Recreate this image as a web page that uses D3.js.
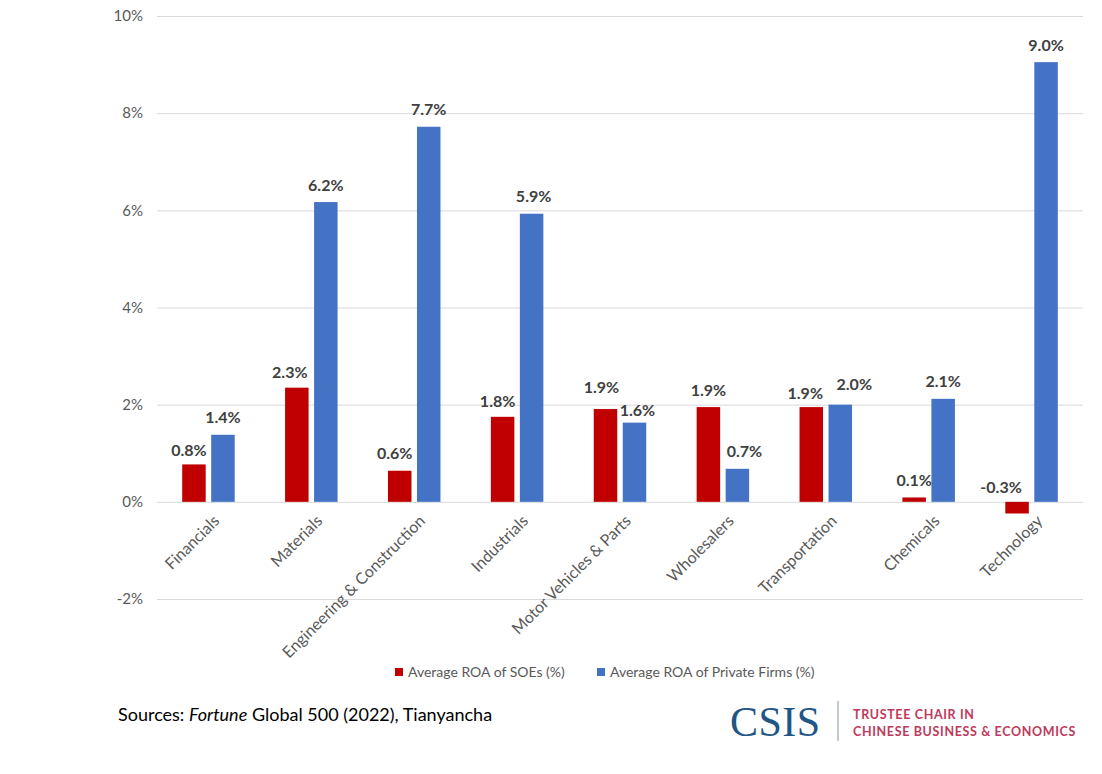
<!DOCTYPE html>
<html>
<head>
<meta charset="utf-8">
<script src="https://cdn.jsdelivr.net/npm/d3@7"></script>
<style>
  body { margin: 0; background: #fff; }
  svg { font-family: Lato, "Open Sans", sans-serif; }
</style>
</head>
<body>
<svg width="1102" height="774"></svg>
<script>
// values
var categories = ["Financials", "Materials", "Engineering & Construction", "Industrials",
  "Motor Vehicles & Parts", "Wholesalers", "Transportation", "Chemicals", "Technology"];
var soeValues = [0.77, 2.35, 0.64, 1.75, 1.91, 1.95, 1.95, 0.09, -0.24];
var soeLabels = ["0.8%", "2.3%", "0.6%", "1.8%", "1.9%", "1.9%", "1.9%", "0.1%", "-0.3%"];
var privateValues = [1.38, 6.17, 7.72, 5.93, 1.63, 0.68, 2.0, 2.12, 9.05];
var privateLabels = ["1.4%", "6.2%", "7.7%", "5.9%", "1.6%", "0.7%", "2.0%", "2.1%", "9.0%"];
var yTicks = [-2, 0, 2, 4, 6, 8, 10];
var seriesNames = ["Average ROA of SOEs (%)", "Average ROA of Private Firms (%)"];
var colors = ["#c00000", "#4472c4"];

// hand-moved data labels in the original (pixel nudges)
var soeNudgeX = [-5, -7, -5, -5, -4, 0, -6, 0, -16];
var soeNudgeY = [3, 2, 0, 2, -5, 0, 3, 0, 3];
var privateNudgeX = [0, 0, 0, 2, 3, 7, 14, 0, 0];
var privateNudgeY = [0, 0, 0, 0, 5, 0, -3, 0, 0];

var svg = d3.select("svg");
var plotLeft = 157, plotRight = 1083, plotTop = 16, plotBottom = 599;

var x = d3.scaleBand().domain(categories).range([plotLeft, plotRight]);
var y = d3.scaleLinear().domain([-2, 10]).range([plotBottom, plotTop]);
var barW = 23.5, gap = 5.5;

// gridlines
svg.append("g").selectAll("line").data(yTicks).enter().append("line")
  .attr("x1", plotLeft).attr("x2", plotRight)
  .attr("y1", function(d) { return y(d) + 0.5; })
  .attr("y2", function(d) { return y(d) + 0.5; })
  .attr("stroke", "#d9d9d9").attr("stroke-width", 1);

// y tick labels
svg.append("g").selectAll("text").data(yTicks).enter().append("text")
  .attr("x", 143).attr("y", function(d) { return y(d); })
  .attr("dy", "0.35em").attr("text-anchor", "end")
  .attr("font-size", 15).attr("fill", "#595959")
  .text(function(d) { return d + "%"; });

var series = [
  { values: soeValues, labels: soeLabels, nx: soeNudgeX, ny: soeNudgeY, off: -(barW + gap) / 2 },
  { values: privateValues, labels: privateLabels, nx: privateNudgeX, ny: privateNudgeY, off: (barW + gap) / 2 }
];

series.forEach(function(s, si) {
  var g = svg.append("g");
  g.selectAll("rect").data(categories).enter().append("rect")
    .attr("x", function(d) { return x(d) + x.bandwidth() / 2 + s.off - barW / 2; })
    .attr("width", barW)
    .attr("y", function(d, i) { return y(Math.max(0, s.values[i])); })
    .attr("height", function(d, i) { return Math.abs(y(s.values[i]) - y(0)); })
    .attr("fill", colors[si]);

  g.selectAll("text").data(categories).enter().append("text")
    .attr("x", function(d, i) { return x(d) + x.bandwidth() / 2 + s.off + s.nx[i]; })
    .attr("y", function(d, i) { return y(Math.max(0, s.values[i])) - 17 + s.ny[i]; })
    .attr("dy", "0.35em")
    .attr("text-anchor", "middle")
    .attr("font-size", 16).attr("font-weight", "bold").attr("fill", "#404040")
    .text(function(d, i) { return s.labels[i]; });
});

// category labels
svg.append("g").selectAll("text").data(categories).enter().append("text")
  .attr("transform", function(d) {
    return "translate(" + (x(d) + x.bandwidth() / 2 + 8) + "," + 518 + ") rotate(-45)";
  })
  .attr("text-anchor", "end").attr("dy", "0.35em")
  .attr("font-size", 16).attr("fill", "#595959")
  .text(function(d) { return d; });

// legend
var legend = svg.append("g");
var lx = [395, 597];
seriesNames.forEach(function(n, i) {
  legend.append("rect").attr("x", lx[i]).attr("y", 668).attr("width", 8).attr("height", 8)
    .attr("fill", colors[i]);
  legend.append("text").attr("x", lx[i] + 13).attr("y", 672).attr("dy", "0.35em")
    .attr("font-size", 14).attr("fill", "#595959").text(n);
});

// source note
var src = svg.append("text").attr("x", 118).attr("y", 721).attr("font-size", 18).attr("fill", "#000");
src.append("tspan").text("Sources: ");
src.append("tspan").attr("font-style", "italic").text("Fortune");
src.append("tspan").text("  Global 500 (2022), Tianyancha");

// CSIS logo
svg.append("text").attr("x", 730).attr("y", 736)
  .attr("font-family", "'Liberation Serif', 'DejaVu Serif', serif")
  .attr("font-size", 42).attr("fill", "#1f5686").attr("textLength", 90)
  .text("CSIS");
svg.append("line").attr("x1", 838).attr("x2", 838).attr("y1", 701).attr("y2", 741)
  .attr("stroke", "#9aa5b1").attr("stroke-width", 1.2);
svg.append("text").attr("x", 853).attr("y", 719)
  .attr("font-size", 12.5).attr("font-weight", "bold").attr("fill", "#c0395a")
  .attr("letter-spacing", 0.65).text("TRUSTEE CHAIR IN");
svg.append("text").attr("x", 853).attr("y", 736)
  .attr("font-size", 12.5).attr("font-weight", "bold").attr("fill", "#c0395a")
  .attr("letter-spacing", 0.65).text("CHINESE BUSINESS & ECONOMICS");
</script>
</body>
</html>
